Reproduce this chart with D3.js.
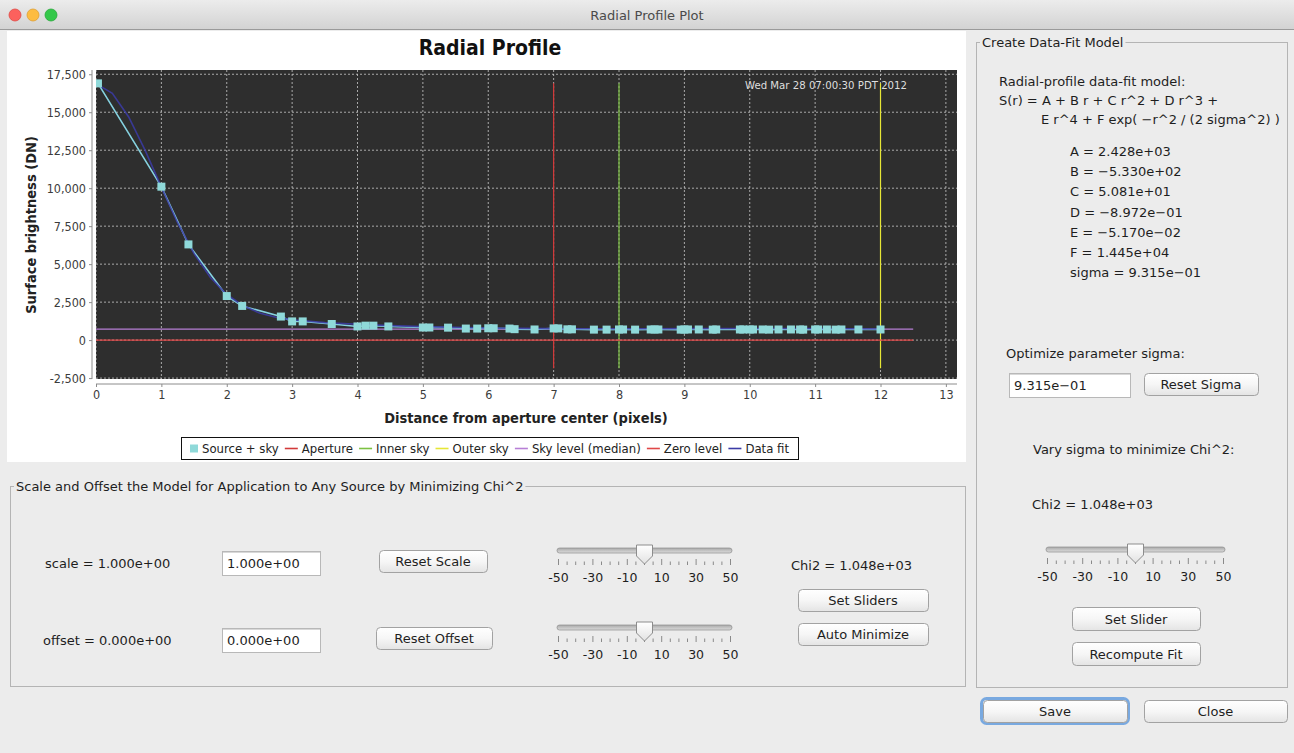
<!DOCTYPE html>
<html>
<head>
<meta charset="utf-8">
<script src="https://cdnjs.cloudflare.com/ajax/libs/d3/7.8.5/d3.min.js"></script>
<style>
  body { margin: 0; background: #ececec; }
  svg { display: block; }
  text { font-family: "DejaVu Sans", sans-serif; }
  .cond { font-family: "DejaVu Sans Condensed", "DejaVu Sans", sans-serif; font-stretch: condensed; }
</style>
</head>
<body>
<svg id="win" width="1294" height="753"></svg>
<script>
//-- Data --//
var sourceR = [0.03, 1, 1.414, 2, 2.236, 2.828, 3, 3.162, 3.606, 4, 4.123, 4.243, 4.472, 5, 5.099, 5.385,
  5.657, 5.831, 6, 6.083, 6.325, 6.403, 6.708, 7, 7.071, 7.211, 7.28, 7.616, 7.81, 8, 8.062, 8.246, 8.485,
  8.544, 8.602, 8.944, 9, 9.055, 9.22, 9.434, 9.487, 9.849, 9.899, 10, 10.05, 10.198, 10.296, 10.44, 10.63,
  10.77, 10.817, 11, 11.045, 11.18, 11.314, 11.402, 11.662, 12];
var sourceS = [16900, 10100, 6300, 2900, 2250, 1550, 1230, 1230, 1060, 900, 950, 950, 900, 830, 830, 820,
  760, 760, 780, 780, 760, 720, 700, 770, 770, 710, 710, 690, 690, 700, 700, 690, 700,
  700, 700, 690, 700, 700, 700, 690, 700, 700, 700, 700, 700, 700, 690, 700, 700,
  700, 690, 700, 700, 700, 690, 700, 700, 700];
var fitR = [0, 0.25, 0.5, 0.75, 1, 1.25, 1.5, 1.75, 2, 2.25, 2.5, 2.75, 3, 3.5, 4, 4.5, 5, 5.5, 6, 6.5,
  7, 7.5, 8, 8.5, 9, 9.5, 10, 10.5, 11, 11.5, 12];
var fitS = [16880, 16240, 14690, 12510, 10070, 7710, 5690, 4120, 3000, 2260, 1790, 1510, 1340, 1150, 1040,
  955, 890, 835, 800, 770, 755, 745, 745, 750, 755, 760, 765, 765, 760, 750, 730];
var apertureR = 7, innerSkyR = 8, outerSkyR = 12;
var markerSpan = [-1850, 16900];
var skyLevel = 720, zeroLevel = 0, levelEnd = 12.5;
var xTickVals = [0, 1, 2, 3, 4, 5, 6, 7, 8, 9, 10, 11, 12, 13];
var yTickVals = [-2500, 0, 2500, 5000, 7500, 10000, 12500, 15000, 17500];
var legendNames = ["Source + sky", "Aperture", "Inner sky", "Outer sky", "Sky level (median)", "Zero level", "Data fit"];
var legendColors = ["#8fd9d9", "#d23a3a", "#7cc142", "#e6e636", "#b77fd6", "#e04848", "#3b3ba6"];
var fitParams = ["A = 2.428e+03", "B = \u22125.330e+02", "C = 5.081e+01", "D = \u22128.972e\u221201",
  "E = \u22125.170e\u221202", "F = 1.445e+04", "sigma = 9.315e\u221201"];
var sliderTicks = [-50, -45, -40, -35, -30, -25, -20, -15, -10, -5, 0, 5, 10, 15, 20, 25, 30, 35, 40, 45, 50];
var sliderLabels = [-50, -30, -10, 10, 30, 50];

var svg = d3.select("#win");
var defs = svg.append("defs");

function vgrad(id, stops) {
  var g = defs.append("linearGradient").attr("id", id).attr("x1", 0).attr("y1", 0).attr("x2", 0).attr("y2", 1);
  stops.forEach(function(s) { g.append("stop").attr("offset", s[0]).attr("stop-color", s[1]); });
}
vgrad("barGrad", [[0, "#ececec"], [1, "#d2d2d2"]]);
vgrad("btnGrad", [[0, "#ffffff"], [0.5, "#f6f6f6"], [1, "#e4e4e4"]]);
vgrad("trackGrad", [[0, "#a9a9a9"], [1, "#dcdcdc"]]);
vgrad("thumbGrad", [[0, "#ffffff"], [1, "#e2e2e2"]]);

//-- Window frame --//
svg.append("rect").attr("width", 1294).attr("height", 753).attr("fill", "#ececec");
svg.append("rect").attr("width", 1294).attr("height", 30).attr("fill", "url(#barGrad)");
svg.append("line").attr("x1", 0).attr("x2", 1294).attr("y1", 29.5).attr("y2", 29.5).attr("stroke", "#9a9a9a");
[["#fc615d", "#de4a45"], ["#fdbc40", "#de9f34"], ["#34c84a", "#27a83a"]].forEach(function(c, i) {
  svg.append("circle").attr("cx", 15 + i * 18).attr("cy", 15).attr("r", 6)
    .attr("fill", c[0]).attr("stroke", c[1]).attr("stroke-width", 0.8);
});
svg.append("text").attr("x", 647).attr("y", 19.5).attr("text-anchor", "middle")
  .style("font-size", "13px").attr("fill", "#4a4a4a").text("Radial Profile Plot");

//-- Chart panel --//
svg.append("rect").attr("x", 7).attr("y", 31).attr("width", 959).attr("height", 431).attr("fill", "#ffffff");

var x = d3.scaleLinear().domain([0, 13.17]).range([96, 957]);
var y = d3.scaleLinear().domain([-2560, 17780]).range([379, 70]);

svg.append("text").attr("x", 490).attr("y", 55).attr("text-anchor", "middle").attr("class", "cond")
  .style("font-size", "21px").style("font-weight", "bold").attr("fill", "#111").text("Radial Profile");

defs.append("clipPath").attr("id", "plotClip").append("rect")
  .attr("x", 96).attr("y", 70).attr("width", 861).attr("height", 309);

var plot = svg.append("g");
plot.append("rect").attr("x", 96).attr("y", 70).attr("width", 861).attr("height", 309).attr("fill", "#2e2e2e");

var inner = plot.append("g").attr("clip-path", "url(#plotClip)");
// grid
inner.selectAll(".vgrid").data(xTickVals).enter().append("line")
  .attr("x1", function(d) { return x(d); }).attr("x2", function(d) { return x(d); })
  .attr("y1", 70).attr("y2", 379)
  .attr("stroke", "#c9c9c9").attr("stroke-width", 0.8).attr("stroke-dasharray", "2,2");
inner.selectAll(".hgrid").data(yTickVals).enter().append("line")
  .attr("y1", function(d) { return y(d); }).attr("y2", function(d) { return y(d); })
  .attr("x1", 96).attr("x2", 957)
  .attr("stroke", "#c9c9c9").attr("stroke-width", 0.8).attr("stroke-dasharray", "2,2");

inner.append("text").attr("x", 745).attr("y", 89).attr("class", "cond")
  .style("font-size", "11.3px").attr("fill", "#dedede").text("Wed Mar 28 07:00:30 PDT 2012");

// aperture / sky radii
[[apertureR, legendColors[1]], [innerSkyR, legendColors[2]], [outerSkyR, legendColors[3]]].forEach(function(m) {
  inner.append("line").attr("x1", x(m[0])).attr("x2", x(m[0]))
    .attr("y1", y(markerSpan[1])).attr("y2", y(markerSpan[0]))
    .attr("stroke", m[1]).attr("stroke-width", 1.2);
});
// levels
[[skyLevel, legendColors[4]], [zeroLevel, legendColors[5]]].forEach(function(m) {
  inner.append("line").attr("x1", x(0)).attr("x2", x(levelEnd))
    .attr("y1", y(m[0])).attr("y2", y(m[0]))
    .attr("stroke", m[1]).attr("stroke-width", 1.4);
});

var sourceData = sourceR.map(function(r, i) { return [r, sourceS[i]]; });
var fitData = fitR.map(function(r, i) { return [r, fitS[i]]; });
var line = d3.line().x(function(d) { return x(d[0]); }).y(function(d) { return y(d[1]); });

inner.append("path").datum(sourceData).attr("d", line)
  .attr("fill", "none").attr("stroke", "#86d2e0").attr("stroke-width", 1.6);
inner.append("path").datum(fitData).attr("d", line)
  .attr("fill", "none").attr("stroke", legendColors[6]).attr("stroke-width", 1.6).attr("stroke-opacity", 0.85);
inner.selectAll(".pt").data(sourceData).enter().append("rect")
  .attr("x", function(d) { return x(d[0]) - 4; }).attr("y", function(d) { return y(d[1]) - 4; })
  .attr("width", 8).attr("height", 8).attr("fill", legendColors[0]);

//-- Axes --//
var commas = d3.format(",");
var yAxis = d3.axisLeft(y).tickValues(yTickVals)
  .tickFormat(function(d) { return commas(d).replace("\u2212", "-"); }).tickSize(3).tickSizeOuter(0);
var xAxis = d3.axisBottom(x).tickValues(xTickVals).tickFormat(d3.format("d")).tickSize(3).tickSizeOuter(0);
var gy = svg.append("g").attr("transform", "translate(92,0)").call(yAxis);
var gx = svg.append("g").attr("transform", "translate(0,384)").call(xAxis);
[gy, gx].forEach(function(g) {
  g.select(".domain").attr("stroke", "#8c8c8c");
  g.selectAll(".tick line").attr("stroke", "#8c8c8c");
  g.selectAll(".tick text").attr("class", "cond").style("font-size", "12.5px").attr("fill", "#3c3c3c")
    .style("font-family", "'DejaVu Sans Condensed','DejaVu Sans',sans-serif");
});
gy.select(".domain").attr("d", "M0,70V379");
gx.select(".domain").attr("d", "M96,0H957");

svg.append("text").attr("class", "cond").attr("transform", "translate(36,225) rotate(-90)")
  .attr("text-anchor", "middle").style("font-size", "14.5px").style("font-weight", "bold").attr("fill", "#222")
  .text("Surface brightness (DN)");
svg.append("text").attr("class", "cond").attr("x", 526).attr("y", 423)
  .attr("text-anchor", "middle").style("font-size", "14.5px").style("font-weight", "bold").attr("fill", "#222")
  .text("Distance from aperture center (pixels)");

//-- Legend --//
var legX = 181, legW = 617;
var leg = svg.append("g");
leg.append("rect").attr("x", legX + 0.5).attr("y", 437.5).attr("width", legW).attr("height", 22)
  .attr("fill", "#fff").attr("stroke", "#111").attr("stroke-width", 1);
var items = [], used = 0;
legendNames.forEach(function(name, i) {
  var g = leg.append("g");
  var off = i === 0 ? 12 : 17;
  if (i === 0) {
    g.append("rect").attr("x", 0).attr("y", 444.5).attr("width", 8).attr("height", 8).attr("fill", legendColors[i]);
  } else {
    g.append("line").attr("x1", 0).attr("x2", 13).attr("y1", 448.5).attr("y2", 448.5)
      .attr("stroke", legendColors[i]).attr("stroke-width", 1.6);
  }
  var t = g.append("text").attr("class", "cond").attr("x", off).attr("y", 453)
    .style("font-size", "13px").attr("fill", "#222").text(name);
  var w = off + t.node().getComputedTextLength();
  items.push([g, w]);
  used += w;
});
var pad = 9, gap = (legW - 2 * pad - used) / (legendNames.length - 1), cur = legX + pad;
items.forEach(function(it) {
  it[0].attr("transform", "translate(" + cur + ",0)");
  cur += it[1] + gap;
});

//-- Swing-like widgets --//
function label(tx, ty, str, anchor) {
  return svg.append("text").attr("x", tx).attr("y", ty).attr("text-anchor", anchor || "start")
    .style("font-size", "13px").attr("fill", "#1e1e1e").text(str);
}
function titledBox(bx, by, bw, bh, title) {
  svg.append("rect").attr("x", bx + 0.5).attr("y", by + 0.5).attr("width", bw).attr("height", bh)
    .attr("fill", "none").attr("stroke", "#b4b4b4");
  var t = label(bx + 6, by + 5, title);
  var tw = t.node().getComputedTextLength();
  svg.insert("rect", function() { return t.node(); }).attr("x", bx + 4).attr("y", by - 3)
    .attr("width", tw + 4).attr("height", 7).attr("fill", "#ececec");
}
function button(bx, by, bw, bh, str, focus) {
  if (focus) {
    svg.append("rect").attr("x", bx - 1.5).attr("y", by - 1.5).attr("width", bw + 3).attr("height", bh + 3)
      .attr("rx", 5).attr("fill", "none").attr("stroke", "#79a9e0").attr("stroke-width", 3);
  }
  svg.append("rect").attr("x", bx + 0.5).attr("y", by + 0.5).attr("width", bw).attr("height", bh)
    .attr("rx", 4).attr("fill", "url(#btnGrad)").attr("stroke", "#a2a2a2");
  label(bx + bw / 2, by + bh / 2 + 5, str, "middle");
}
function field(fx, fy, fw, fh, str) {
  svg.append("rect").attr("x", fx + 0.5).attr("y", fy + 0.5).attr("width", fw).attr("height", fh)
    .attr("fill", "#fff").attr("stroke", "#b8b8b8");
  svg.append("line").attr("x1", fx + 1).attr("x2", fx + fw).attr("y1", fy + 1.5).attr("y2", fy + 1.5)
    .attr("stroke", "#d8d8d8");
  label(fx + 5, fy + fh / 2 + 5, str);
}
function slider(x0, x1, ty, value) {
  var s = d3.scaleLinear().domain([-50, 50]).range([x0 + 1.5, x1 - 1.5]);
  svg.append("rect").attr("x", x0).attr("y", ty - 3).attr("width", x1 - x0).attr("height", 5)
    .attr("rx", 2.5).attr("fill", "url(#trackGrad)").attr("stroke", "#8e8e8e").attr("stroke-width", 0.7);
  svg.selectAll(null).data(sliderTicks).enter().append("line")
    .attr("x1", function(d) { return s(d); }).attr("x2", function(d) { return s(d); })
    .attr("y1", function(d) { return sliderLabels.indexOf(d) >= 0 ? ty + 8 : ty + 10.5; })
    .attr("y2", ty + 14).attr("stroke", "#8a8a8a").attr("stroke-width", 1);
  svg.selectAll(null).data(sliderLabels).enter().append("text")
    .attr("x", function(d) { return s(d); }).attr("y", ty + 31).attr("text-anchor", "middle")
    .style("font-size", "12.5px").attr("fill", "#1e1e1e")
    .text(function(d) { return d; });
  var cx = s(value);
  svg.append("path")
    .attr("d", "M" + (cx - 8) + "," + (ty - 6) + "H" + (cx + 8) + "V" + (ty + 5) + "L" + cx + "," + (ty + 13) +
      "L" + (cx - 8) + "," + (ty + 5) + "Z")
    .attr("fill", "url(#thumbGrad)").attr("stroke", "#8c8c8c").attr("stroke-linejoin", "round");
}

//-- Scale / offset panel --//
titledBox(10, 486, 955, 200, "Scale and Offset the Model for Application to Any Source by Minimizing Chi^2");
label(45, 568, "scale = 1.000e+00");
field(222, 551, 98, 24, "1.000e+00");
button(379, 550, 108, 22, "Reset Scale");
slider(557, 732, 551, 0);
label(791, 570, "Chi2 = 1.048e+03");
button(798, 589, 130, 22, "Set Sliders");
label(43, 645, "offset = 0.000e+00");
field(222, 628, 98, 24, "0.000e+00");
button(376, 627, 116, 22, "Reset Offset");
slider(557, 732, 628, 0);
button(798, 623, 130, 22, "Auto Minimize");

//-- Data-fit model panel --//
titledBox(976, 42, 311, 645, "Create Data-Fit Model");
label(999, 86, "Radial-profile data-fit model:");
label(999, 105, "S(r) = A + B r + C r^2 + D r^3 +");
label(1041, 124, "E r^4 + F exp( \u2212r^2 / (2 sigma^2) )");
fitParams.forEach(function(p, i) { label(1070, 156 + i * 20.2, p); });
label(1006, 358, "Optimize parameter sigma:");
field(1009, 373, 121, 24, "9.315e\u221201");
button(1144, 373, 114, 22, "Reset Sigma");
label(1033, 454, "Vary sigma to minimize Chi^2:");
label(1032, 509, "Chi2 = 1.048e+03");
slider(1046, 1225, 550, 0);
button(1072, 607, 128, 23, "Set Slider");
button(1072, 642, 128, 23, "Recompute Fit");
button(983, 700, 144, 22, "Save", true);
button(1144, 700, 143, 22, "Close");
</script>
</body>
</html>
